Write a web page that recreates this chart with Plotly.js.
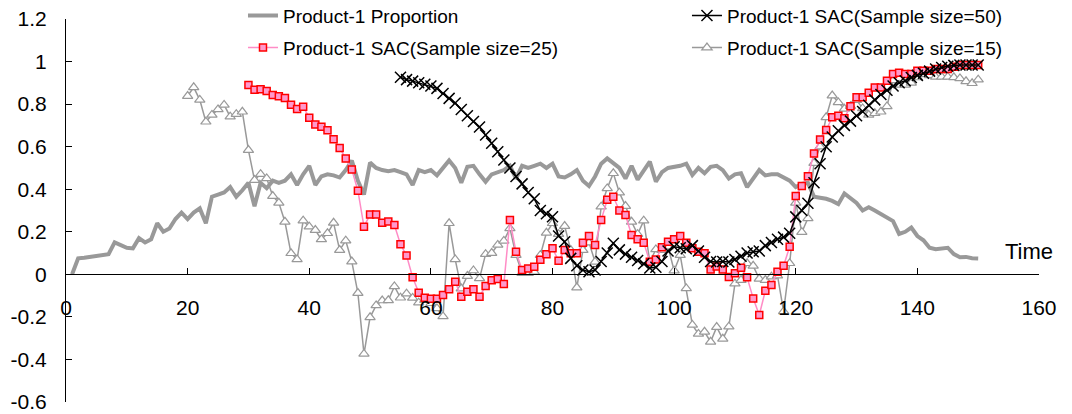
<!DOCTYPE html>
<html>
<head>
<meta charset="utf-8">
<script src="https://cdn.plot.ly/plotly-3.0.1.min.js"></script>
<style>html,body{margin:0;padding:0;background:#fff;}#chart{width:1072px;height:414px;}</style>
</head>
<body>
<div id="chart"></div>
<script>
// ---- data ----
const seriesNames = [
  "Product-1 Proportion",
  "Product-1 SAC(Sample size=50)",
  "Product-1 SAC(Sample size=25)",
  "Product-1 SAC(Sample size=15)"
];
const proportionStart = 1;
const proportion = [
 0.000,0.075,0.078,0.083,0.088,0.093,0.095,0.150,0.135,0.125,
 0.122,0.170,0.150,0.165,0.240,0.200,0.215,0.260,0.290,0.260,
 0.290,0.310,0.240,0.365,0.375,0.385,0.410,0.365,0.395,0.430,
 0.320,0.430,0.405,0.440,0.430,0.440,0.470,0.420,0.470,0.510,
 0.420,0.460,0.470,0.465,0.455,0.490,0.535,0.440,0.375,0.525,
 0.500,0.490,0.485,0.490,0.480,0.470,0.420,0.490,0.480,0.490,
 0.465,0.500,0.535,0.500,0.430,0.505,0.510,0.470,0.435,0.470,
 0.480,0.490,0.510,0.450,0.510,0.500,0.510,0.520,0.500,0.520,
 0.460,0.455,0.470,0.490,0.440,0.415,0.460,0.520,0.545,0.525,
 0.500,0.450,0.510,0.445,0.490,0.530,0.435,0.480,0.500,0.505,
 0.510,0.520,0.467,0.500,0.475,0.505,0.510,0.490,0.450,0.470,
 0.475,0.410,0.450,0.490,0.465,0.470,0.470,0.455,0.440,0.410,
 0.425,0.430,0.365,0.360,0.355,0.345,0.330,0.380,0.355,0.335,
 0.300,0.315,0.300,0.285,0.270,0.250,0.190,0.200,0.220,0.180,
 0.160,0.125,0.118,0.120,0.125,0.095,0.080,0.082,0.076,0.075
];
const sac50Start = 55;
const sac50 = [
 0.926,0.915,0.908,0.900,0.893,0.885,0.874,0.850,0.827,0.805,
 0.775,0.745,0.718,0.692,0.655,0.616,0.576,0.537,0.500,0.460,
 0.425,0.385,0.355,0.300,0.285,0.271,0.180,0.153,0.075,0.040,
 0.020,0.012,0.020,0.060,0.100,0.146,0.115,0.095,0.080,0.065,
 0.050,0.030,0.033,0.060,0.110,0.130,0.125,0.120,0.135,0.110,
 0.080,0.060,0.058,0.060,0.058,0.070,0.085,0.100,0.106,0.110,
 0.135,0.150,0.165,0.175,0.193,0.270,0.300,0.334,0.430,0.520,
 0.600,0.645,0.675,0.700,0.720,0.745,0.765,0.795,0.820,0.845,
 0.865,0.885,0.900,0.910,0.925,0.935,0.945,0.955,0.965,0.972,
 0.978,0.982,0.984,0.984,0.984,0.984
];
const sac25Start = 30;
const sac25 = [
 0.890,0.868,0.870,0.862,0.843,0.837,0.829,0.797,0.777,0.788,
 0.736,0.704,0.694,0.677,0.635,0.594,0.544,0.493,0.393,0.224,
 0.281,0.281,0.243,0.248,0.232,0.141,0.088,-0.014,-0.086,-0.110,
 -0.115,-0.115,-0.097,-0.070,-0.035,-0.105,-0.082,-0.070,-0.105,-0.055,
 -0.028,-0.022,-0.046,0.255,0.106,0.020,0.028,0.036,0.069,0.094,
 0.122,0.064,0.114,0.099,0.099,0.149,0.180,0.138,0.255,0.350,
 0.365,0.300,0.279,0.185,0.165,0.149,0.059,0.070,0.127,0.153,
 0.165,0.180,0.149,0.122,0.106,0.099,0.023,0.037,0.023,-0.012,
 0.005,0.031,-0.014,-0.113,-0.191,-0.077,-0.050,0.012,0.040,0.130,
 0.368,0.415,0.461,0.568,0.634,0.678,0.738,0.745,0.734,0.790,
 0.832,0.832,0.853,0.878,0.878,0.910,0.941,0.947,0.941,0.941,
 0.957,0.957,0.957,0.965,0.965,0.965,0.976,0.984,0.984,0.984,
 0.984
];
const sac15Start = 20;
const sac15 = [
 0.838,0.879,0.820,0.717,0.749,0.775,0.796,0.741,0.753,0.764,
 0.584,0.443,0.471,0.451,0.368,0.336,0.247,0.099,0.070,0.252,
 0.224,0.208,0.164,0.193,0.242,0.114,0.158,0.060,-0.088,-0.374,
 -0.202,-0.146,-0.123,-0.122,-0.057,-0.110,-0.091,-0.111,-0.133,-0.121,
 -0.136,-0.160,-0.198,0.240,0.070,-0.067,-0.008,0.018,-0.019,0.095,
 0.100,0.138,0.157,0.216,0.090,0.006,0.005,0.012,0.090,0.195,
 0.240,0.189,0.227,0.114,-0.062,0.114,0.149,0.059,0.318,0.404,
 0.475,0.384,0.321,0.247,0.189,0.252,0.059,0.117,0.114,0.130,
 0.017,0.090,-0.066,-0.238,-0.280,-0.270,-0.317,-0.248,-0.303,-0.246,
 -0.044,-0.027,0.052,0.040,-0.021,-0.027,-0.011,-0.006,-0.174,0.052,
 0.336,0.198,0.263,0.523,0.600,0.738,0.840,0.808,0.778,0.790,
 0.819,0.780,0.749,0.757,0.764,0.789,0.912,0.890,0.890,0.900,
 0.925,0.940,0.935,0.928,0.928,0.928,0.926,0.921,0.907,0.898,
 0.915
];
const xTickVals = [0,20,40,60,80,100,120,140,160];
const xTickText = ["0","20","40","60","80","100","120","140","160"];
const yTickVals = [-0.6,-0.4,-0.2,0,0.2,0.4,0.6,0.8,1,1.2];
const yTickText = ["-0.6","-0.4","-0.2","0","0.2","0.4","0.6","0.8","1","1.2"];
const xAxisLabel = "Time";

// ---- helpers ----
function xsFrom(start, arr){ return arr.map((_, i) => start + i); }

const FONT = "Liberation Sans, Arial, sans-serif";

const traces = [
  {
    x: xsFrom(proportionStart, proportion), y: proportion, name: seriesNames[0],
    type: "scatter", mode: "lines",
    line: {color: "#999999", width: 4},
    legend: "legend"
  },
  {
    x: xsFrom(sac15Start, sac15), y: sac15, name: seriesNames[3],
    type: "scatter", mode: "lines+markers",
    line: {color: "#999999", width: 1.5},
    marker: {symbol: "triangle-up", size: 9, color: "#ffffff", line: {color: "#999999", width: 1.2}},
    legend: "legend4"
  },
  {
    x: xsFrom(sac25Start, sac25), y: sac25, name: seriesNames[2],
    type: "scatter", mode: "lines+markers",
    line: {color: "#ff8cc6", width: 1.5},
    marker: {symbol: "square", size: 7, color: "#ff99cc", line: {color: "#ff0000", width: 1.5}},
    legend: "legend3"
  },
  {
    x: xsFrom(sac50Start, sac50), y: sac50, name: seriesNames[1],
    type: "scatter", mode: "lines+markers",
    line: {color: "#000000", width: 1.5},
    marker: {symbol: "x-thin", size: 11, color: "#000000", line: {color: "#000000", width: 1.5}},
    legend: "legend2"
  }
];

function legendAt(x, y){
  return {x: x, y: y, xanchor: "left", yanchor: "middle", orientation: "v",
          bgcolor: "rgba(0,0,0,0)", borderwidth: 0,
          font: {family: FONT, size: 19, color: "#000"}};
}

const layout = {
  width: 1072, height: 414,
  margin: {l: 66, r: 33, t: 19, b: 12, pad: 0, autoexpand: false},
  paper_bgcolor: "#ffffff", plot_bgcolor: "#ffffff",
  font: {family: FONT, color: "#000"},
  showlegend: true,
  legend: legendAt(0.1819, 1.0086),
  legend2: legendAt(0.6382, 1.0086),
  legend3: legendAt(0.1819, 0.9251),
  legend4: legendAt(0.6382, 0.9251),
  xaxis: {
    range: [0, 160], tickvals: xTickVals, ticktext: xTickText,
    ticks: "inside", ticklen: 6, tickcolor: "#000", tickwidth: 1,
    showline: true, linecolor: "#000", linewidth: 1,
    showgrid: false, zeroline: false,
    anchor: "free", position: 1/3,
    tickfont: {family: FONT, size: 21, color: "#000"},
    ticklabelstandoff: 14, automargin: false
  },
  yaxis: {
    range: [-0.6, 1.2], tickvals: yTickVals, ticktext: yTickText,
    ticks: "inside", ticklen: 6, tickcolor: "#000", tickwidth: 1,
    showline: true, linecolor: "#000", linewidth: 1,
    showgrid: false, zeroline: false,
    tickfont: {family: FONT, size: 21, color: "#000"},
    ticklabelstandoff: 14, automargin: false
  },
  annotations: [{
    x: 154, y: 0.105, xref: "x", yref: "y", text: xAxisLabel,
    showarrow: false, xanchor: "left", yanchor: "middle",
    font: {family: FONT, size: 22, color: "#000"}
  }]
};

Plotly.newPlot("chart", traces, layout, {displayModeBar: false, staticPlot: true});
</script>
</body>
</html>
